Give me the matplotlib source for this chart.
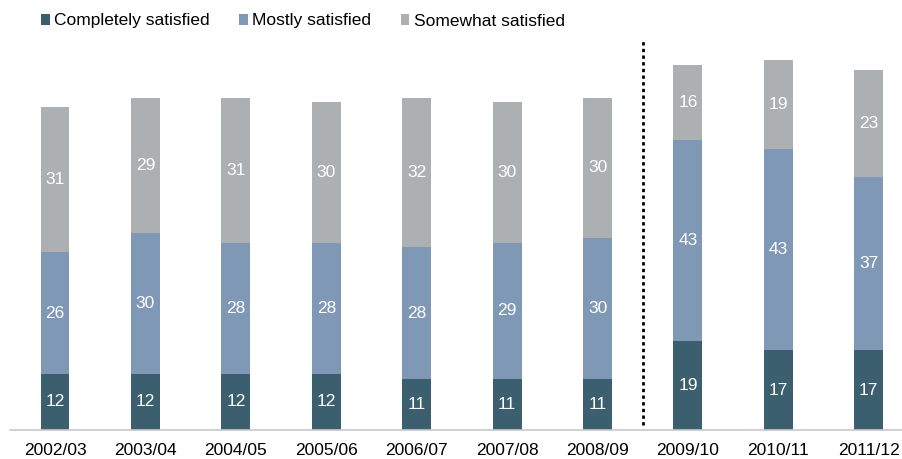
import matplotlib
matplotlib.use("Agg")
import matplotlib.pyplot as plt
from matplotlib.patches import Patch
import numpy as np

plt.rcParams['font.family'] = ['Liberation Sans', 'DejaVu Sans']

years = ["2002/03", "2003/04", "2004/05", "2005/06", "2006/07",
         "2007/08", "2008/09", "2009/10", "2010/11", "2011/12"]
completely = [12, 12, 12, 12, 11, 11, 11, 19, 17, 17]
mostly = [26, 30, 28, 28, 28, 29, 30, 43, 43, 37]
somewhat = [31, 29, 31, 30, 32, 30, 30, 16, 19, 23]

series = [("Completely satisfied", completely, "#3b5f6e"),
          ("Mostly satisfied", mostly, "#7f98b6"),
          ("Somewhat satisfied", somewhat, "#adb0b3")]

FS = 12.5
W, H = 902, 459
fig = plt.figure(figsize=(W / 100, H / 100), dpi=100)
ax_left, ax_right = 9.8, 914.0
ax_bottom, ax_top = 430, 40
ax = fig.add_axes([ax_left / W, (H - ax_bottom) / H,
                   (ax_right - ax_left) / W, (ax_bottom - ax_top) / H])

x = np.arange(len(years))
bottom = np.zeros(len(years))
for name, vals, color in series:
    vals = np.array(vals, dtype=float)
    ax.bar(x, vals, width=0.32, bottom=bottom, color=color, label=name)
    for xi, b, v in zip(x, bottom, vals):
        ax.text(xi, b + v / 2, f"{int(v)}", ha="center", va="center",
                color="white", fontsize=FS)
    bottom += vals

ax.set_xlim(-0.5, 9.5)
ax.set_ylim(0, 390 / 4.68)

# separator between the two survey periods
ax.axvline(6.5, ymin=0.013, ymax=1.0, color="black", linestyle=(0, (1.2, 1.2)),
           linewidth=2.0)

for side in ("top", "right", "left"):
    ax.spines[side].set_visible(False)
ax.spines["bottom"].set_color("#c8c8c8")
ax.spines["bottom"].set_linewidth(1.2)
ax.set_yticks([])
ax.set_xticks(x)
ax.set_xticklabels(years, fontsize=FS, color="black")
ax.tick_params(axis="x", length=0, pad=9.5)

handles = [Patch(facecolor=c, label=n) for n, _, c in series]
fig.legend(handles=handles, loc="center left", bbox_to_anchor=(41 / W, 1 - 21 / H),
           ncol=3, frameon=False, fontsize=FS, handlelength=0.5,
           handleheight=0.55, handletextpad=0.25, columnspacing=1.7,
           borderaxespad=0, borderpad=0)

fig.savefig("out.png", dpi=100)
